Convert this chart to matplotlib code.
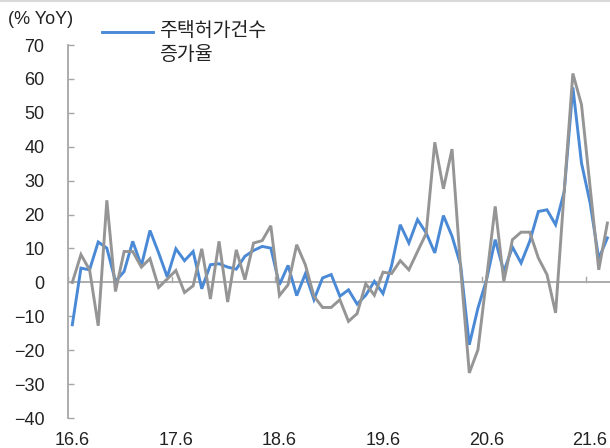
import numpy as np
import matplotlib
matplotlib.use('Agg')
import matplotlib.pyplot as plt
from matplotlib.lines import Line2D

plt.rcParams['font.family'] = ['Liberation Sans', 'Noto Sans CJK KR', 'DejaVu Sans']
plt.rcParams['axes.unicode_minus'] = True

# monthly, 2016.6 ~ 2021.8
x_labels = ['16.6', '17.6', '18.6', '19.6', '20.6', '21.6']
permit_growth = [
    -12.5, 4.2, 3.7, 11.9, 10.1, 0.3, 3.2, 12.1, 4.9, 15.3,
    8.7, 1.6, 9.9, 6.4, 9.1, -1.9, 5.2, 5.5, 4.5, 3.9,
    7.7, 9.4, 10.6, 10.1, -0.7, 5.0, -3.9, 2.5, -5.1, 1.3,
    2.3, -4.1, -2.2, -6.4, -3.8, 0.3, -3.3, 5.0, 17.0, 11.6,
    18.5, 14.6, 8.7, 19.7, 13.6, 5.0, -18.4, -7.6, 0.8, 12.6,
    3.2, 10.4, 5.7, 12.1, 20.9, 21.4, 17.0, 26.8, 57.5, 35.2,
    23.4, 7.0, 13.1,
]
other_growth = [
    0.0, 8.2, 3.7, -12.8, 24.2, -2.7, 9.1, 9.1, 4.5, 7.0,
    -1.5, 1.0, 3.5, -3.0, -1.0, 9.9, -4.9, 12.1, -5.8, 9.6,
    0.8, 11.6, 12.3, 16.7, -3.9, -0.7, 11.1, 5.2, -4.1, -7.4,
    -7.4, -5.1, -11.5, -9.2, -0.4, -3.8, 3.0, 2.6, 6.4, 3.7,
    9.1, 14.4, 41.3, 27.6, 39.3, 4.0, -26.7, -19.9, 1.2, 22.4,
    0.3, 12.6, 14.8, 14.8, 7.2, 2.3, -9.0, 27.0, 61.6, 52.4,
    28.0, 3.7, 17.5,
]

blue = '#4a89d6'
gray = '#959595'
axis_gray = '#a6a6a6'
txt = '#222222'
fs = 13

n = len(permit_growth)
x = np.arange(n)

fig = plt.figure(figsize=(6.10, 4.48), dpi=100)
ax = fig.add_axes([68 / 610, 1 - 418 / 448, (611.7 - 68) / 610, (418 - 45) / 448])

ax.plot(x, permit_growth, color=blue, lw=2.1, solid_joinstyle='miter', zorder=3)
ax.plot(x, other_growth, color=gray, lw=2.1, solid_joinstyle='miter', zorder=4)

ax.set_xlim(-0.5, n - 0.5)
ax.set_ylim(-40, 70)

# zero line acting as x axis, with upward tick marks at year boundaries
ax.axhline(0, color=axis_gray, lw=1.3, zorder=2)
for b in np.arange(-0.5, n, 12):
    ax.plot([b, b], [0, 1.5], color=axis_gray, lw=1.0, zorder=2)

for s in ['top', 'right', 'bottom']:
    ax.spines[s].set_visible(False)
ax.spines['left'].set_color(axis_gray)
ax.spines['left'].set_linewidth(1.3)

ax.set_yticks(np.arange(-40, 71, 10))
ax.tick_params(axis='y', direction='in', length=4, width=1.0, color=axis_gray,
               pad=17, labelsize=fs, labelcolor=txt)
ax.set_xticks(np.arange(0, n, 12))
ax.set_xticklabels(x_labels)
ax.tick_params(axis='x', length=0, pad=10, labelsize=fs, labelcolor=txt)

fig.text(8 / 610, 1 - 20 / 448, '(% YoY)', fontsize=fs, color=txt,
         ha='left', va='center')

# legend
fig.add_artist(Line2D([102 / 610, 153 / 610], [1 - 32 / 448, 1 - 32 / 448],
                      color=blue, lw=2.1))
fig.text(159 / 610, 1 - 31 / 448, '주택허가건수', fontsize=14, color=txt,
         ha='left', va='center')
fig.text(159 / 610, 1 - 55 / 448, '증가율', fontsize=14, color=txt,
         ha='left', va='center')

# thin separator at the top
fig.add_artist(Line2D([0, 1], [1 - 1 / 448, 1 - 1 / 448], color='#d9d9d9', lw=1.5))

fig.savefig('out.png', dpi=100)
